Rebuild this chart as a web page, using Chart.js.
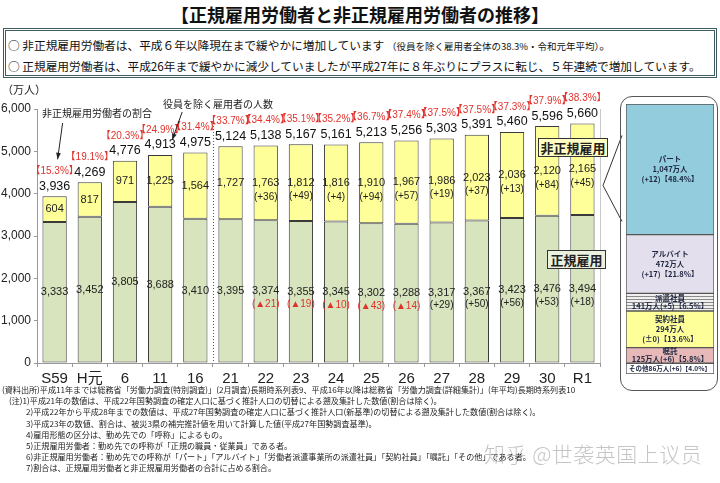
<!DOCTYPE html>
<html lang="ja">
<head>
<meta charset="utf-8">
<title>正規雇用労働者と非正規雇用労働者の推移</title>
<script src="https://cdn.jsdelivr.net/npm/chart.js@4.4.1/dist/chart.umd.min.js"></script>
<style>
  html, body { margin: 0; padding: 0; background: #fff; }
  body {
    width: 720px; height: 483px; position: relative; overflow: hidden;
    font-family: "Noto Sans CJK JP", "Liberation Sans", sans-serif; color: #222;
  }
  .abs { position: absolute; white-space: nowrap; }
  #title { left: 0; width: 720px; top: 2px; text-align: center; font-size: 18px; font-weight: bold; line-height: 24px; color: #111; }
  #summary { left: 3px; top: 28px; width: 708px; height: 44px; border: 3px double #3f5961; }
  .sline { left: 8px; font-size: 11.7px; line-height: 16px; color: #111; }
  .sline small { font-size: 9.5px; }
  #main { left: 0; top: 80px; }
  #unit { left: 2px; top: 82px; font-size: 11px; line-height: 14px; }
  .note { font-size: 10px; line-height: 14px; color: #222; }
  .tag { font-weight: bold; font-size: 13px; line-height: 17px; text-align: center; border: 1.5px solid #333; }
  #frame { left: 620px; top: 96px; width: 96px; height: 293px; border: 1.5px solid #555; border-radius: 12px; }
  #panel { left: 626px; top: 104px; }
  #foot { left: 2px; top: 384px; font-size: 8.1px; line-height: 11.2px; color: #222; }
  #foot div { white-space: nowrap; }
  #foot .in { padding-left: 24px; }
  #mark { left: 484px; top: 438px; font-family: "Noto Sans CJK SC", sans-serif; font-size: 21px; font-weight: 300; color: rgba(150,150,150,0.55); letter-spacing: 0.5px; }
</style>
</head>
<body>
<div id="title" class="abs">【正規雇用労働者と非正規雇用労働者の推移】</div>
<div id="summary" class="abs"></div>
<div class="abs sline" style="top:37px">○ 非正規雇用労働者は、平成６年以降現在まで緩やかに増加しています <small>（役員を除く雇用者全体の38.3%・令和元年平均）</small>。</div>
<div class="abs sline" style="top:58px">○ 正規雇用労働者は、平成26年まで緩やかに減少していましたが平成27年に８年ぶりにプラスに転じ、５年連続で増加しています。</div>

<canvas id="main" class="abs" width="625" height="310"></canvas>
<div id="unit" class="abs">（万人）</div>
<div class="abs note" style="left:42px; top:106px">非正規雇用労働者の割合</div>
<div class="abs note" style="left:163px; top:97px">役員を除く雇用者の人数</div>

<div id="frame" class="abs"></div>
<canvas id="panel" class="abs" width="88" height="270"></canvas>

<div class="abs tag" style="left:538px; top:138px; width:68px; background:#ffffc4">非正規雇用</div>
<div class="abs tag" style="left:547px; top:250px; width:57px; background:#ebf1de">正規雇用</div>

<div id="foot" class="abs">
  <div>(資料出所)平成11年までは総務省「労働力調査(特別調査)」(2月調査)長期時系列表9、平成16年以降は総務省「労働力調査(詳細集計)」(年平均)長期時系列表10</div>
  <div style="padding-left:7px">(注)1)平成21年の数値は、平成22年国勢調査の確定人口に基づく推計人口の切替による遡及集計した数値(割合は除く)。</div>
  <div class="in">2)平成22年から平成28年までの数値は、平成27年国勢調査の確定人口に基づく推計人口(新基準)の切替による遡及集計した数値(割合は除く)。</div>
  <div class="in">3)平成23年の数値、割合は、被災3県の補完推計値を用いて計算した値(平成27年国勢調査基準)。</div>
  <div class="in">4)雇用形態の区分は、勤め先での「呼称」によるもの。</div>
  <div class="in">5)正規雇用労働者：勤め先での呼称が「正規の職員・従業員」である者。</div>
  <div class="in">6)非正規雇用労働者：勤め先での呼称が「パート」「アルバイト」「労働者派遣事業所の派遣社員」「契約社員」「嘱託」「その他」である者。</div>
  <div class="in">7)割合は、正規雇用労働者と非正規雇用労働者の合計に占める割合。</div>
</div>
<div id="mark" class="abs">知乎 @世袭英国上议员</div>

<script>
// ---- data (万人) ----
const years = ['S59', 'H元', '6', '11', '16', '21', '22', '23', '24', '25', '26', '27', '28', '29', '30', 'R1'];
const regular = [3333, 3452, 3805, 3688, 3410, 3395, 3374, 3355, 3345, 3302, 3288, 3317, 3367, 3423, 3476, 3494];
const nonRegular = [604, 817, 971, 1225, 1564, 1727, 1763, 1812, 1816, 1910, 1967, 1986, 2023, 2036, 2120, 2165];
const totals = [3936, 4269, 4776, 4913, 4975, 5124, 5138, 5167, 5161, 5213, 5256, 5303, 5391, 5460, 5596, 5660];
const nonRegularShare = [15.3, 19.1, 20.3, 24.9, 31.4, 33.7, 34.4, 35.1, 35.2, 36.7, 37.4, 37.5, 37.5, 37.3, 37.9, 38.3];
const regularChange = [null, null, null, null, null, null, -21, -19, -10, -43, -14, 29, 50, 56, 53, 18];
const nonRegularChange = [null, null, null, null, null, null, 36, 49, 4, 94, 57, 19, 37, 13, 84, 45];
const yTicks = [0, 1000, 2000, 3000, 4000, 5000, 6000];

// breakdown of 非正規 for R1, top to bottom
const kinds = ['パート', 'アルバイト', '派遣社員', '契約社員', '嘱託', 'その他'];
const kindValues = [1047, 472, 141, 294, 125, 86];
const kindChange = ['+12', '+17', '+5', '±0', '+6', '+6'];
const kindShare = [48.4, 21.8, 6.5, 13.6, 5.8, 4.0];

const RED = '#e0312b';
const NUM_FONT = '"Liberation Sans", "DejaVu Sans", "Noto Sans CJK JP"';
const fmt = v => v.toLocaleString('en-US');

// labels on the bars, separator, arrows and the bracket to the side panel
const barLabels = {
  id: 'barLabels',
  afterDatasetsDraw(chart) {
    const { ctx, chartArea } = chart;
    const reg = chart.getDatasetMeta(0).data;
    const non = chart.getDatasetMeta(1).data;
    ctx.save();

    // right edge of the plot
    ctx.strokeStyle = '#c8c8c8';
    ctx.lineWidth = 1;
    ctx.beginPath();
    ctx.moveTo(chartArea.right + 0.5, chartArea.top);
    ctx.lineTo(chartArea.right + 0.5, chartArea.bottom);
    ctx.stroke();

    // dotted line between 16 and 21
    const sx = Math.round((reg[4].x + reg[5].x) / 2) + 0.5;
    ctx.strokeStyle = '#555';
    ctx.setLineDash([1, 2]);
    ctx.beginPath();
    ctx.moveTo(sx, chartArea.top + 11);
    ctx.lineTo(sx, chartArea.bottom);
    ctx.stroke();
    ctx.setLineDash([]);

    ctx.textAlign = 'center';
    ctx.textBaseline = 'middle';
    years.forEach((_, i) => {
      const r = reg[i], n = non[i];
      const rMid = (r.y + r.base) / 2;
      const nMid = (n.y + n.base) / 2;

      ctx.fillStyle = '#222';
      ctx.font = '11px ' + NUM_FONT;
      ctx.fillText(fmt(regular[i]), r.x, rMid);
      ctx.fillText(fmt(nonRegular[i]), n.x, nMid);

      ctx.font = '10px ' + NUM_FONT;
      const rc = regularChange[i];
      if (rc !== null) {
        ctx.fillStyle = rc < 0 ? RED : '#222';
        ctx.fillText(rc < 0 ? '(▲' + (-rc) + ')' : '(+' + rc + ')', r.x, rMid + 13);
      }
      const nc = nonRegularChange[i];
      if (nc !== null) {
        ctx.fillStyle = '#222';
        ctx.fillText('(+' + nc + ')', n.x, nMid + 14);
      }

      ctx.fillStyle = '#111';
      ctx.font = '12.5px ' + NUM_FONT;
      ctx.fillText(fmt(totals[i]), n.x, n.y - 10);
      ctx.fillStyle = RED;
      ctx.font = '10px ' + NUM_FONT;
      ctx.fillText('【' + nonRegularShare[i].toFixed(1) + '%】', n.x, n.y - 25);
    });

    // arrows from the two notes
    const arrow = (x1, y1, x2, y2) => {
      ctx.strokeStyle = '#222';
      ctx.fillStyle = '#222';
      ctx.lineWidth = 1;
      ctx.beginPath();
      ctx.moveTo(x1, y1);
      ctx.lineTo(x2, y2);
      ctx.stroke();
      const a = Math.atan2(y2 - y1, x2 - x1);
      ctx.beginPath();
      ctx.moveTo(x2, y2);
      ctx.lineTo(x2 - 7 * Math.cos(a - 0.35), y2 - 7 * Math.sin(a - 0.35));
      ctx.lineTo(x2 - 7 * Math.cos(a + 0.35), y2 - 7 * Math.sin(a + 0.35));
      ctx.closePath();
      ctx.fill();
    };
    const e1y = non[0].y - 37;
    arrow(non[0].x + 8, chartArea.top + 14, non[0].x + 3, e1y);
    arrow(non[3].x + 22, chartArea.top + 3, non[3].x + 12, non[3].y - 15);

    // bracket from the R1 bar to the breakdown panel
    const tipX = chartArea.right + 3;
    const tipY = non[15].y + 62;
    ctx.strokeStyle = '#333';
    ctx.beginPath();
    ctx.moveTo(chart.width - 3, tipY - 50);
    ctx.lineTo(tipX, tipY);
    ctx.lineTo(chart.width - 3, tipY + 36);
    ctx.stroke();
    ctx.restore();
  }
};

new Chart(document.getElementById('main'), {
  type: 'bar',
  data: {
    labels: years,
    datasets: [
      { label: '正規雇用', data: regular, backgroundColor: '#d7e4bd', borderColor: '#3a3a3a', borderWidth: 1, borderSkipped: false },
      { label: '非正規雇用', data: nonRegular, backgroundColor: '#ffff99', borderColor: '#3a3a3a', borderWidth: 1, borderSkipped: false }
    ]
  },
  options: {
    responsive: false,
    animation: false,
    events: [],
    layout: { padding: { top: 29, right: 25, left: 0, bottom: 0 } },
    datasets: { bar: { barPercentage: 0.69, categoryPercentage: 1 } },
    plugins: { legend: { display: false }, tooltip: { enabled: false } },
    scales: {
      x: {
        stacked: true,
        afterFit: s => { s.height = 27; },
        grid: { drawOnChartArea: false, drawTicks: true, tickLength: 4, color: '#999' },
        border: { display: true, color: '#999' },
        ticks: { color: '#222', padding: 3, font: { size: 15, family: '"Liberation Sans", "Noto Sans CJK JP"' } }
      },
      y: {
        stacked: true,
        min: 0,
        max: 6000,
        afterFit: s => { s.width = 37; },
        afterBuildTicks: s => { s.ticks = yTicks.map(v => ({ value: v })); },
        grid: { drawOnChartArea: false, drawTicks: true, tickLength: 3, color: '#999' },
        border: { display: true, color: '#999' },
        ticks: { color: '#222', padding: 3, font: { size: 12, family: '"Liberation Sans"' }, callback: v => fmt(v) }
      }
    }
  },
  plugins: [barLabels]
});

// ---- side panel: breakdown of 非正規雇用 (R1) ----
const panelCanvas = document.getElementById('panel');
function hatch() {
  const c = document.createElement('canvas');
  c.width = 4; c.height = 3;
  const g = c.getContext('2d');
  g.fillStyle = '#f0f0f0'; g.fillRect(0, 0, 4, 3);
  g.fillStyle = '#8a8a8a'; g.fillRect(0, 0, 4, 1);
  return panelCanvas.getContext('2d').createPattern(c, 'repeat');
}
const kindColors = ['#93cddd', '#e4dfec', hatch(), '#ffff99', '#e6b9b8', '#ffffff'];
const kindLines = kinds.map((k, i) => {
  const v = fmt(kindValues[i]) + '万人';
  const tail = '(' + kindChange[i] + ')【' + kindShare[i].toFixed(1) + '%】';
  if (i === 5) return [k + v + tail];
  if (i === 2 || i === 4) return [k, v + tail];
  return [k, v, tail];
});

const panelLabels = {
  id: 'panelLabels',
  afterDatasetsDraw(chart) {
    const { ctx } = chart;
    ctx.save();
    ctx.textAlign = 'center';
    ctx.textBaseline = 'middle';
    ctx.fillStyle = '#1c2440';
    chart.data.datasets.forEach((ds, di) => {
      const el = chart.getDatasetMeta(di).data[0];
      const lines = kindLines[ds.kindIndex];
      const lh = lines.length === 3 ? 10 : 8;
      const mid = (el.y + el.base) / 2;
      lines.forEach((t, li) => {
        let size = 7.5;
        ctx.font = 'bold ' + size + 'px "Noto Sans CJK JP"';
        while (ctx.measureText(t).width > el.width - 4 && size > 5) {
          size -= 0.25;
          ctx.font = 'bold ' + size + 'px "Noto Sans CJK JP"';
        }
        ctx.fillText(t, el.x, mid + (li - (lines.length - 1) / 2) * lh);
      });
    });
    ctx.restore();
  }
};

// stacked from the bottom, so reverse the top-to-bottom order
const panelSets = kinds.map((k, i) => ({
  label: k,
  kindIndex: i,
  data: [kindValues[i]],
  backgroundColor: kindColors[i],
  borderColor: '#555',
  borderWidth: 1,
  borderSkipped: false
})).reverse();

new Chart(panelCanvas, {
  type: 'bar',
  data: { labels: ['R1'], datasets: panelSets },
  options: {
    responsive: false,
    animation: false,
    events: [],
    layout: { padding: 0 },
    datasets: { bar: { barPercentage: 1, categoryPercentage: 1 } },
    plugins: { legend: { display: false }, tooltip: { enabled: false } },
    scales: {
      x: { stacked: true, display: false },
      y: { stacked: true, display: false, min: 0, max: kindValues.reduce((a, b) => a + b, 0) }
    }
  },
  plugins: [panelLabels]
});
</script>
</body>
</html>
